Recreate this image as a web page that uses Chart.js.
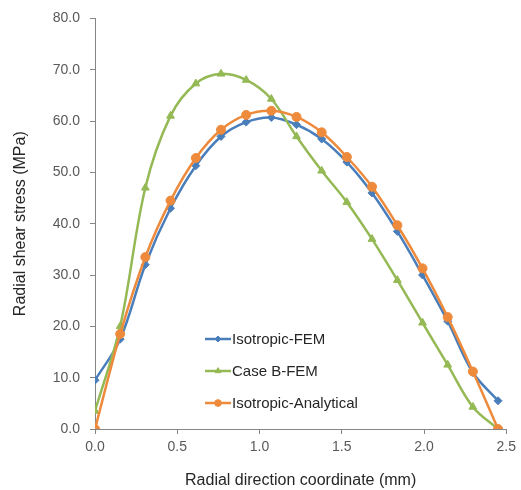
<!DOCTYPE html>
<html>
<head>
<meta charset="utf-8">
<script src="https://cdn.jsdelivr.net/npm/chart.js@4.4.1/dist/chart.umd.min.js"></script>
<style>
  html, body { margin: 0; padding: 0; background: #fff; }
  #wrap { width: 521px; height: 490px; position: relative; }
</style>
</head>
<body>
<div id="wrap"><canvas id="stressChart" width="521" height="490"></canvas></div>
<script>
/* ---- data ---- */
const radialPos = [0.0, 0.153, 0.306, 0.459, 0.613, 0.766, 0.919, 1.072, 1.225,
                   1.378, 1.531, 1.684, 1.838, 1.991, 2.144, 2.297, 2.45];
const isoFem    = [9.5, 17.5, 32.0, 43.0, 51.3, 57.0, 59.8, 60.7, 59.3,
                   56.5, 52.0, 46.0, 38.5, 30.0, 21.0, 11.0, 5.5];
const caseBFem  = [3.5, 20.0, 47.0, 61.0, 67.3, 69.2, 68.0, 64.3, 57.0,
                   50.3, 44.2, 37.0, 29.0, 20.7, 12.5, 4.3, 0.0];
const isoAnal   = [0.0, 18.5, 33.5, 44.5, 52.8, 58.3, 61.2, 62.0, 60.8,
                   57.8, 53.0, 47.2, 39.7, 31.3, 21.8, 11.2, 0.0];
const seriesNames = ['Isotropic-FEM', 'Case B-FEM', 'Isotropic-Analytical'];
const xTicks = [0.0, 0.5, 1.0, 1.5, 2.0, 2.5];
const yTicks = [0, 10, 20, 30, 40, 50, 60, 70, 80];

const FONT = "'Liberation Sans', Arial, sans-serif";
const AXIS_GREY = '#868686';
const TEXT_GREY = '#595959';

function toPoints(ys) {
  return ys.map((y, i) => ({ x: radialPos[i], y: y }));
}

/* legend drawn inside the plot, like the Excel original */
const insideLegend = {
  id: 'insideLegend',
  afterDatasetsDraw(chart) {
    const ctx = chart.ctx;
    const x0 = 205, rowY = [339, 371, 403];
    chart.data.datasets.forEach((ds, i) => {
      const y = rowY[i];
      ctx.save();
      ctx.strokeStyle = ds.borderColor;
      ctx.fillStyle = ds.borderColor;
      ctx.lineWidth = 2.5;
      ctx.beginPath();
      ctx.moveTo(x0, y);
      ctx.lineTo(x0 + 26, y);
      ctx.stroke();
      ctx.lineWidth = 1;
      Chart.helpers.drawPoint(ctx, {
        pointStyle: ds.pointStyle,
        radius: ds.pointRadius * 0.75,
        borderWidth: 1
      }, x0 + 13, y);
      ctx.fillStyle = '#262626';
      ctx.font = '15px ' + FONT;
      ctx.textBaseline = 'middle';
      ctx.fillText(ds.label, x0 + 27, y + 1);
      ctx.restore();
    });
  }
};

function buildChart() {
  const ctx = document.getElementById('stressChart').getContext('2d');
  const styles = [
    { color: '#4a7ebb', point: 'rectRot',  r: 4,   order: 3 },
    { color: '#94b955', point: 'triangle', r: 4.5, order: 2 },
    { color: '#ee8a3c', point: 'circle',   r: 4.5, order: 1 }
  ];
  const values = [isoFem, caseBFem, isoAnal];

  new Chart(ctx, {
    type: 'line',
    data: {
      datasets: values.map((ys, i) => ({
        label: seriesNames[i],
        data: toPoints(ys),
        borderColor: styles[i].color,
        backgroundColor: styles[i].color,
        pointBackgroundColor: styles[i].color,
        pointBorderColor: styles[i].color,
        pointBorderWidth: 1,
        pointStyle: styles[i].point,
        pointRadius: styles[i].r,
        borderWidth: 2.5,
        tension: 0.35,
        fill: false,
        order: styles[i].order
      }))
    },
    options: {
      responsive: false,
      animation: false,
      layout: { padding: { top: 18, right: 12, bottom: 0, left: 0 } },
      plugins: { legend: { display: false }, tooltip: { enabled: false } },
      scales: {
        x: {
          type: 'linear',
          min: 0, max: 2.5,
          afterBuildTicks: s => { s.ticks = xTicks.map(v => ({ value: v })); },
          afterFit: s => { s.height = 61; },
          border: { color: AXIS_GREY, width: 1 },
          grid: { drawOnChartArea: false, drawTicks: true, tickLength: 5, color: AXIS_GREY },
          ticks: {
            padding: 5,
            color: TEXT_GREY,
            font: { size: 14, family: FONT },
            maxRotation: 0,
            callback: v => v.toFixed(1)
          },
          title: {
            display: true,
            text: 'Radial direction coordinate (mm)',
            color: '#262626',
            font: { size: 16, family: FONT },
            padding: { top: 0, bottom: 0 }
          }
        },
        y: {
          min: 0, max: 80,
          afterBuildTicks: s => { s.ticks = yTicks.map(v => ({ value: v })); },
          afterFit: s => { s.width = 95; },
          border: { color: AXIS_GREY, width: 1 },
          grid: { drawOnChartArea: false, drawTicks: true, tickLength: 5, color: AXIS_GREY },
          ticks: {
            padding: 10,
            color: TEXT_GREY,
            font: { size: 14, family: FONT },
            callback: v => v.toFixed(1)
          },
          title: {
            display: true,
            text: 'Radial shear stress (MPa)',
            color: '#262626',
            font: { size: 16, family: FONT },
            padding: { top: 11, bottom: 0 }
          }
        }
      }
    },
    plugins: [insideLegend]
  });
}

window.addEventListener('load', buildChart);
</script>
</body>
</html>
